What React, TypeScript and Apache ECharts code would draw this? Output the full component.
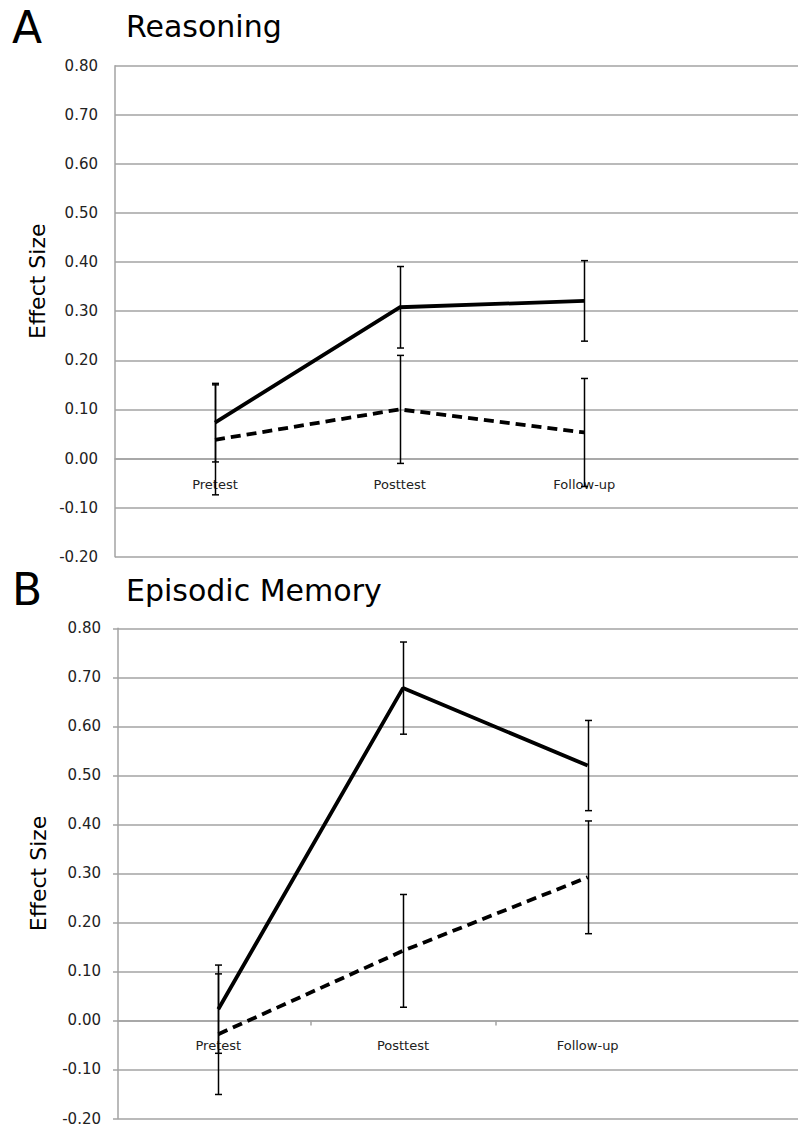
import React, { useEffect, useRef } from "react";
import * as echarts from "echarts";

const categories = ["Pretest", "Posttest", "Follow-up"];

const reasoningTraining = [0.073, 0.308, 0.321];
const reasoningTrainingErr = [0.08, 0.083, 0.082];
const reasoningControl = [0.038, 0.1, 0.053];
const reasoningControlErr = [0.112, 0.11, 0.11];

const memoryTraining = [0.023, 0.678, 0.52];
const memoryTrainingErr = [0.09, 0.094, 0.092];
const memoryControl = [-0.028, 0.142, 0.292];
const memoryControlErr = [0.123, 0.115, 0.115];

const yMin = -0.2;
const yMax = 0.8;
const yStep = 0.1;

const panelLetters = ["A", "B"];
const panelTitles = ["Reasoning", "Episodic Memory"];
const yAxisName = "Effect Size";

const FONT = "DejaVu Sans";
const GRID_COLOR = "#a3a3a3";

function pts(v: number[]) {
  return v.map((y, i) => [i, y]);
}
function errs(v: number[], e: number[]) {
  return v.map((y, i) => [i, y - e[i], y + e[i]]);
}

function renderErr(params: any, api: any) {
  const x = api.value(0);
  const lo = api.coord([x, api.value(1)]);
  const hi = api.coord([x, api.value(2)]);
  const cx = Math.round(lo[0]) + 0.5;
  const w = 3.5;
  const style = { stroke: "#000", lineWidth: 1.5 };
  return {
    type: "group",
    children: [
      { type: "line", shape: { x1: cx, y1: hi[1], x2: cx, y2: lo[1] }, style },
      { type: "line", shape: { x1: cx - w, y1: hi[1], x2: cx + w, y2: hi[1] }, style },
      { type: "line", shape: { x1: cx - w, y1: lo[1], x2: cx + w, y2: lo[1] }, style },
    ],
  };
}

export default function App() {
  const ref = useRef<HTMLDivElement>(null);
  useEffect(() => {
    document.body.style.margin = "0";
    if (!ref.current) return;
    const chart = echarts.init(ref.current, null, { renderer: "svg" });

    const grids = [
      { left: 115, top: 65.7, width: 683, height: 491 },
      { left: 118, top: 628.3, width: 680, height: 490.3 },
    ];
    const xRanges = [
      { min: -0.5416, max: 3.157 },
      { min: -0.543, max: 3.139 },
    ];
    // distance in px from grid bottom up to the zero line
    const zeroOffset = (i: number) => -((0 - yMin) / (yMax - yMin)) * grids[i].height;

    const xAxes = [0, 1].map((i) => ({
      type: "value",
      gridIndex: i,
      min: xRanges[i].min,
      max: xRanges[i].max,
      position: "bottom",
      offset: zeroOffset(i),
      axisLine: { show: true, onZero: false, lineStyle: { color: GRID_COLOR, width: 1.5 } },
      axisTick:
        i === 1
          ? { show: true, customValues: [0.5, 1.5], length: 5, lineStyle: { color: GRID_COLOR, width: 1.5 } }
          : { show: false },
      splitLine: { show: false },
      axisLabel: {
        customValues: [0, 1, 2],
        formatter: (v: number) => categories[Math.round(v)] ?? "",
        margin: 19,
        fontFamily: FONT,
        fontSize: 13,
        color: "#222",
      },
    }));

    const yAxes = [0, 1].map((i) => ({
      type: "value",
      gridIndex: i,
      min: yMin,
      max: yMax,
      interval: yStep,
      name: yAxisName,
      nameLocation: "middle",
      nameRotate: 90,
      nameGap: i === 0 ? 66 : 69,
      nameTextStyle: {
        fontFamily: FONT,
        fontSize: 22,
        color: "#000",
        padding: i === 0 ? [0, 0, 0, 60] : 0,
      },
      axisLine: { show: true, onZero: false, lineStyle: { color: GRID_COLOR, width: 1.5 } },
      axisTick:
        i === 1
          ? { show: true, length: 5, lineStyle: { color: GRID_COLOR, width: 1.5 } }
          : { show: false },
      splitLine: { show: true, lineStyle: { color: GRID_COLOR, width: 1.5 } },
      axisLabel: {
        margin: 17,
        fontFamily: FONT,
        fontSize: 15,
        color: "#222",
        formatter: (v: number) => (Math.abs(v) < 1e-9 ? "0.00" : Number(v).toFixed(2)),
      },
    }));

    const lineSeries = (data: number[], dashed: boolean, idx: number) => ({
      type: "line",
      xAxisIndex: idx,
      yAxisIndex: idx,
      data: pts(data),
      symbol: "none",
      lineStyle: { color: "#000", width: 3.8, type: dashed ? [10, 6] : "solid" },
      z: 3,
    });
    const errSeries = (data: number[], e: number[], idx: number) => ({
      type: "custom",
      xAxisIndex: idx,
      yAxisIndex: idx,
      data: errs(data, e),
      encode: { x: 0, y: [1, 2] },
      renderItem: renderErr,
      z: 4,
    });

    chart.setOption({
      animation: false,
      backgroundColor: "#fff",
      grid: grids,
      xAxis: xAxes,
      yAxis: yAxes,
      graphic: [
        { type: "text", left: 12, top: 5, style: { text: panelLetters[0], fontFamily: FONT, fontSize: 44, fill: "#000" } },
        { type: "text", left: 126, top: 11, style: { text: panelTitles[0], fontFamily: FONT, fontSize: 30, fill: "#000" } },
        { type: "text", left: 12, top: 567, style: { text: panelLetters[1], fontFamily: FONT, fontSize: 44, fill: "#000" } },
        { type: "text", left: 126, top: 575, style: { text: panelTitles[1], fontFamily: FONT, fontSize: 30, fill: "#000" } },
      ],
      series: [
        lineSeries(reasoningTraining, false, 0),
        lineSeries(reasoningControl, true, 0),
        errSeries(reasoningTraining, reasoningTrainingErr, 0),
        errSeries(reasoningControl, reasoningControlErr, 0),
        lineSeries(memoryTraining, false, 1),
        lineSeries(memoryControl, true, 1),
        errSeries(memoryTraining, memoryTrainingErr, 1),
        errSeries(memoryControl, memoryControlErr, 1),
      ],
    });
    return () => chart.dispose();
  }, []);
  return <div ref={ref} style={{ width: 799, height: 1126 }} />;
}
